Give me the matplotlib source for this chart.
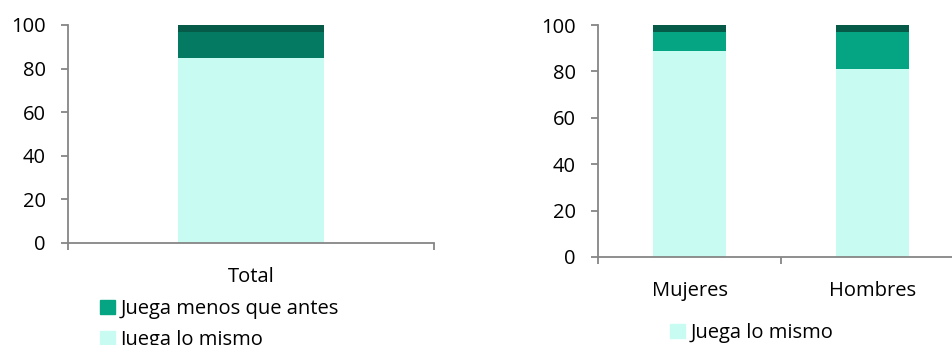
import matplotlib.pyplot as plt
from matplotlib.patches import Patch

plt.rcParams['font.family'] = ['Open Sans', 'DejaVu Sans']

# data (percent)
total_cats = ["Total"]
total_mismo = [85]
total_menos = [12]
total_mas = [3]

sexo_cats = ["Mujeres", "Hombres"]
sexo_mismo = [89, 81]
sexo_menos = [8, 16]
sexo_mas = [3, 3]

lbl_menos = "Juega menos que antes"
lbl_mismo = "Juega lo mismo"

c_mismo = "#c8fcf2"
c_menos_total = "#047a62"
c_menos = "#05a584"
c_top = "#055a48"
axis_grey = "#868686"

W, H = 952, 345
FS = 14.5
fig = plt.figure(figsize=(W / 100, H / 100), dpi=100)


def px_axes(x0, y_bottom, width, height):
    return fig.add_axes([x0 / W, (H - y_bottom) / H, width / W, height / H])


def style(ax, ncat):
    ax.set_xlim(-0.5, ncat - 0.5)
    ax.set_ylim(0, 100)
    ax.set_yticks(range(0, 101, 20))
    for side in ("top", "right"):
        ax.spines[side].set_visible(False)
    for side in ("left", "bottom"):
        ax.spines[side].set_color(axis_grey)
        ax.spines[side].set_linewidth(1.3)
    ax.tick_params(axis="y", length=5, width=1.3, color=axis_grey,
                   pad=11, labelsize=FS)
    ax.tick_params(axis="x", which="major", length=0, pad=17, labelsize=FS)
    ax.set_xticks([i - 0.5 for i in range(ncat + 1)], minor=True)
    ax.tick_params(axis="x", which="minor", length=5, width=1.3,
                   color=axis_grey, direction="out")


# left chart
ax1 = px_axes(68, 243, 366, 218)
x1 = range(len(total_cats))
ax1.bar(x1, total_mismo, width=0.4, color=c_mismo)
ax1.bar(x1, total_menos, width=0.4, bottom=total_mismo, color=c_menos_total)
ax1.bar(x1, total_mas, width=0.4,
        bottom=[a + b for a, b in zip(total_mismo, total_menos)], color=c_top)
ax1.set_xticks(list(x1))
ax1.set_xticklabels(total_cats)
style(ax1, len(total_cats))

# right chart
ax2 = px_axes(598, 257, 366, 232)
x2 = range(len(sexo_cats))
ax2.bar(x2, sexo_mismo, width=0.4, color=c_mismo)
ax2.bar(x2, sexo_menos, width=0.4, bottom=sexo_mismo, color=c_menos)
ax2.bar(x2, sexo_mas, width=0.4,
        bottom=[a + b for a, b in zip(sexo_mismo, sexo_menos)], color=c_top)
ax2.set_xticks(list(x2))
ax2.set_xticklabels(sexo_cats)
style(ax2, len(sexo_cats))

leg_kw = dict(frameon=False, fontsize=FS, handlelength=0.72,
              handleheight=0.72, handletextpad=0.3, borderaxespad=0,
              borderpad=0, labelspacing=0.55, loc="upper left")
fig.legend(handles=[Patch(color=c_menos, label=lbl_menos),
                    Patch(color=c_mismo, label=lbl_mismo)],
           bbox_to_anchor=(100 / W, (H - 299) / H), **leg_kw)
fig.legend(handles=[Patch(color=c_mismo, label=lbl_mismo)],
           bbox_to_anchor=(670 / W, (H - 323) / H), **leg_kw)

fig.savefig("out.png", dpi=100)
